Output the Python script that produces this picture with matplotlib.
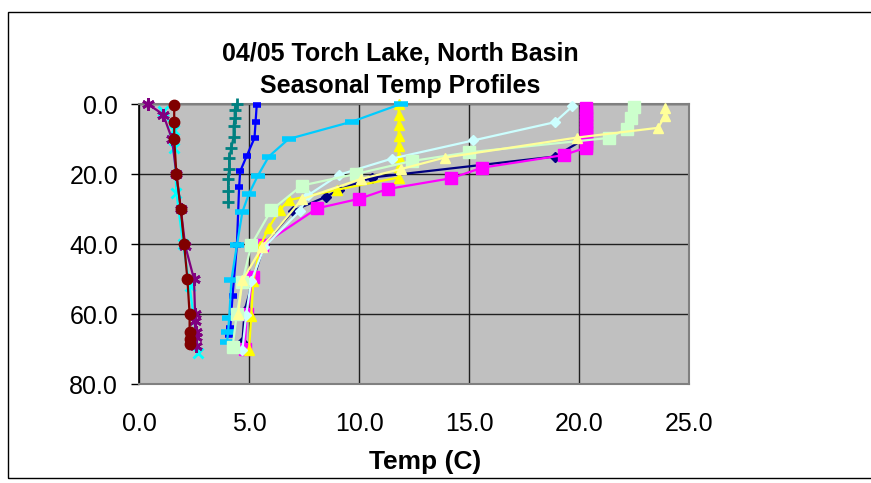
import matplotlib
matplotlib.use("Agg")
import matplotlib.pyplot as plt
from matplotlib.patches import Rectangle

plt.rcParams['font.family'] = ['Liberation Sans', 'DejaVu Sans']

# Profils de température (temp en C, profondeur)
navy_t = [20.25, 20.25, 20.25, 18.9, 10.6, 9.1, 8.5, 7.0, 5.7, 5.2, 4.8, 4.7]
navy_d = [1, 5, 10, 15, 21, 24.5, 26.5, 30.5, 40, 50, 59, 68]

magenta_t = [20.3, 20.3, 20.3, 20.3, 20.3, 20.3, 20.3, 20.3, 20.3, 20.3, 20.3, 20.3, 20.3,
             19.3, 15.6, 14.2, 11.3, 10.0, 8.1, 5.6, 5.2, 4.9, 4.8]
magenta_d = [1, 2, 3, 4, 5, 6, 7, 8, 9, 10, 11, 12, 12.5,
             14.6, 18.2, 21.2, 24.3, 27.1, 29.8, 40.3, 49.5, 60, 70]

yellow_t = [11.8, 11.8, 11.8, 11.8, 11.8, 11.8, 11.8, 11.8, 9.0, 6.8, 6.4, 5.9, 5.5, 5.2, 5.1, 5.0]
yellow_d = [0, 3, 6, 9, 12, 15, 18, 21, 24.5, 27.5, 30.3, 35.3, 40.7, 50.5, 60.5, 70.4]

cyan_t = [1.1, 1.6, 1.6, 1.7, 2.0, 2.3, 2.7]
cyan_d = [2, 7.5, 12.5, 25.3, 40, 52, 71]

purple_t = [0.4, 1.1, 1.5, 1.7, 1.9, 2.1, 2.5, 2.55, 2.55, 2.6, 2.6, 2.6]
purple_d = [0, 3, 10, 20, 30, 40.5, 50, 60, 62, 65, 66.5, 69]

darkred_t = [1.6, 1.6, 1.6, 1.7, 1.9, 2.05, 2.2, 2.3, 2.3, 2.3, 2.3]
darkred_d = [0.4, 5, 10, 20, 30, 40, 50, 60, 65, 67, 68.5]

teal_t = [4.45, 4.35, 4.35, 4.3, 4.3, 4.2, 4.1, 4.1, 4.05, 4.05, 4.05]
teal_d = [0, 1.6, 4, 6.4, 9.3, 12.5, 15.5, 18.5, 21.5, 24.8, 28]

blue_t = [5.35, 5.3, 5.25, 4.9, 4.6, 4.55, 4.45, 4.25, 4.15, 4.1]
blue_d = [0.4, 5, 9.7, 14.8, 19.2, 23.8, 40.3, 54.9, 64, 66]

skyblue_t = [11.9, 9.7, 6.8, 5.9, 5.4, 5.0, 4.7, 4.45, 4.2, 4.1, 4.05, 4.0]
skyblue_d = [0, 5, 10, 15, 20.5, 25.6, 30.8, 40.3, 50.3, 61, 65.2, 68]

lightcyan_t = [19.7, 18.9, 15.2, 11.5, 9.1, 7.7, 7.3, 5.7, 5.1, 4.87, 4.7]
lightcyan_d = [0.7, 5.2, 10.4, 15.6, 20.2, 26, 30.6, 40.8, 50.6, 60.3, 70.3]

lightgreen_t = [22.5, 22.35, 22.2, 21.35, 15.0, 12.4, 9.85, 7.4, 6.0, 5.1, 4.7, 4.45, 4.25]
lightgreen_d = [0.9, 4.1, 7, 9.7, 13.8, 16.3, 20, 23.3, 30.4, 40.3, 50.9, 59.9, 69.5]

lightyellow_t = [23.9, 23.9, 23.6, 19.9, 13.9, 11.9, 10.1, 7.4, 5.6, 4.7, 4.5]
lightyellow_d = [1.2, 3.4, 6.8, 9.6, 15.3, 18.6, 21.4, 27.2, 40.8, 50.4, 60.1]

series = [
    (navy_t, navy_d, '#000080', 'D', 5, 1),
    (magenta_t, magenta_d, '#FF00FF', 's', 8, 1),
    (yellow_t, yellow_d, '#FFFF00', '^', 7, 1),
    (cyan_t, cyan_d, '#00FFFF', 'x', 7, 2),
    (purple_t, purple_d, '#800080', (6, 2, 0), 9, 2),
    (darkred_t, darkred_d, '#800000', 'o', 7.5, 1),
    (teal_t, teal_d, '#008080', '+', 9, 2),
    (blue_t, blue_d, '#0000FF', '_', 6, 4),
    (skyblue_t, skyblue_d, '#00CCFF', '_', 10, 4),
    (lightcyan_t, lightcyan_d, '#CCFFFF', 'D', 5, 1),
    (lightgreen_t, lightgreen_d, '#CCFFCC', 's', 9, 1),
    (lightyellow_t, lightyellow_d, '#FFFF99', '^', 7, 1),
]

fig = plt.figure(figsize=(8.71, 4.83), dpi=100)
ax = fig.add_axes([139 / 871, 1 - 384 / 483, 550 / 871, 280 / 483])
ax.set_facecolor('#C0C0C0')

for t, d, col, mk, ms, mew in series:
    ax.plot(t, d, color=col, lw=1.6, marker=mk, ms=ms, mew=mew,
            mec=col, mfc=col, clip_on=False, zorder=3)

ax.set_xlim(0, 25)
ax.set_ylim(80, 0)
ax.set_xticks([0, 5, 10, 15, 20, 25])
ax.set_yticks([0, 20, 40, 60, 80])
ax.set_xticklabels(['0.0', '5.0', '10.0', '15.0', '20.0', '25.0'])
ax.set_yticklabels(['0.0', '20.0', '40.0', '60.0', '80.0'])
ax.tick_params(axis='x', length=0, pad=20, labelsize=18)
ax.tick_params(axis='y', length=6, width=1, pad=9, labelsize=18, direction='out')

ax.grid(True, color='#202020', lw=1, zorder=1)
ax.set_axisbelow(True)
for side in ['top', 'bottom', 'right']:
    ax.spines[side].set_color('#808080')
    ax.spines[side].set_linewidth(1.5)
ax.spines['left'].set_color('black')
ax.spines['left'].set_linewidth(1.2)

fig.text(425 / 871, 1 - 462 / 483, 'Temp (C)', ha='center', va='center',
         fontsize=19, fontweight='bold')
fig.text(400 / 871, 1 - 70 / 483, '04/05 Torch Lake, North Basin\nSeasonal Temp Profiles',
         ha='center', va='center', fontsize=18, fontweight='bold', linespacing=1.4)

# cadre extérieur
fig.patches.append(Rectangle((8 / 871, 5 / 483), 1.0, 1 - 17 / 483, transform=fig.transFigure,
                             fill=False, edgecolor='black', lw=1))

fig.savefig('out.png', dpi=100)
